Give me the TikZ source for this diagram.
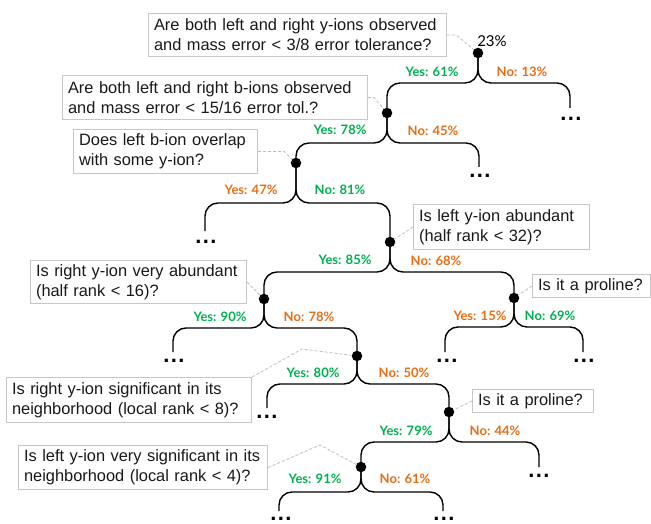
\documentclass[tikz,border=0pt]{standalone}
\usepackage{fontspec}
\setmainfont{Liberation Sans}
\newfontfamily\labfont{Lato}
\definecolor{ygreen}{RGB}{0,176,80}
\definecolor{norange}{RGB}{232,110,20}
\begin{document}
\begin{tikzpicture}[x=1pt,y=-1pt,
  qbox/.style={draw=black!22, line width=1.1pt, fill=white, anchor=north west, align=left,
    inner xsep=5.5pt, inner ysep=0pt, font=\fontsize{16.4}{20}\selectfont, text=black!90},
  dotnode/.style={circle, fill=black, inner sep=0pt, minimum size=10.5pt},
  branch/.style={line width=1.4pt, rounded corners=13pt},
  leader/.style={draw=black!25, line width=0.8pt, dash pattern=on 3pt off 2pt},
  lab/.style={font=\labfont\bfseries\fontsize{13}{14}\selectfont, inner sep=0pt},
  yeslab/.style={lab, text=ygreen},
  nolab/.style={lab, text=norange},
  rootlab/.style={font=\labfont\fontsize{15}{16}\selectfont, inner sep=0pt},
  more/.style={font=\bfseries\fontsize{22}{22}\selectfont, inner sep=0pt}
]
\fill[white] (0,0) rectangle (651,524);
\useasboundingbox (0,0) rectangle (651,524);

% decision dots
\node[dotnode] (n0) at (478,53) {};
\node[dotnode] (n1) at (387,113) {};
\node[dotnode] (n2) at (296,163) {};
\node[dotnode] (n3) at (390,242) {};
\node[dotnode] (n4) at (264,299) {};
\node[dotnode] (n5) at (514,298) {};
\node[dotnode] (n6) at (357,356) {};
\node[dotnode] (n7) at (449,412) {};
\node[dotnode] (n8) at (361,467) {};

% leaf ends
\coordinate (l1) at (570,108);
\coordinate (l2) at (479,167);
\coordinate (l3) at (205,231);
\coordinate (l4) at (445,352);
\coordinate (l5) at (583,352);
\coordinate (l6) at (173,352);
\coordinate (l7) at (267,408);
\coordinate (l8) at (539,467);
\coordinate (l9) at (279,511);
\coordinate (l10) at (443,511);

\node[more] (d1) at (571,119) {.\kern1.4pt.\kern1.4pt.};
\node[more] (d2) at (480,176) {.\kern1.4pt.\kern1.4pt.};
\node[more] (d3) at (206,242) {.\kern1.4pt.\kern1.4pt.};
\node[more] (d4) at (447,361) {.\kern1.4pt.\kern1.4pt.};
\node[more] (d5) at (584,361) {.\kern1.4pt.\kern1.4pt.};
\node[more] (d6) at (174,361) {.\kern1.4pt.\kern1.4pt.};
\node[more] (d7) at (267,417) {.\kern1.4pt.\kern1.4pt.};
\node[more] (d8) at (539,476) {.\kern1.4pt.\kern1.4pt.};
\node[more] (d9) at (281,519) {.\kern1.4pt.\kern1.4pt.};
\node[more] (d10) at (444,519) {.\kern1.4pt.\kern1.4pt.};

% branches
\draw[branch] (n0.center) -- ++(0,30) -| (n1.center);
\draw[branch] (n0.center) -- ++(0,30) -| (l1);
\draw[branch] (n1.center) -- ++(0,30) -| (n2.center);
\draw[branch] (n1.center) -- ++(0,30) -| (l2);
\draw[branch] (n2.center) -- ++(0,40) -| (l3);
\draw[branch] (n2.center) -- ++(0,40) -| (n3.center);
\draw[branch] (n3.center) -- ++(0,30) -| (n4.center);
\draw[branch] (n3.center) -- ++(0,30) -| (n5.center);
\draw[branch] (n5.center) -- ++(0,29) -| (l4);
\draw[branch] (n5.center) -- ++(0,29) -| (l5);
\draw[branch] (n4.center) -- ++(0,29) -| (l6);
\draw[branch] (n4.center) -- ++(0,29) -| (n6.center);
\draw[branch] (n6.center) -- ++(0,28) -| (l7);
\draw[branch] (n6.center) -- ++(0,28) -| (n7.center);
\draw[branch] (n7.center) -- ++(0,30) -| (n8.center);
\draw[branch] (n7.center) -- ++(0,30) -| (l8);
\draw[branch] (n8.center) -- ++(0,25) -| (l9);
\draw[branch] (n8.center) -- ++(0,25) -| (l10);

% question boxes
\node[qbox, text width=287pt, minimum height=43pt] (q1) at (148,13)
  {Are both left and right y-ions observed\\and mass error < 3/8 error tolerance?};
\node[qbox, text width=294pt, minimum height=44pt] (q2) at (62,75)
  {Are both left and right b-ions observed\\and mass error < 15/16 error tol.?};
\node[qbox, text width=173pt, minimum height=44pt] (q3) at (73,129)
  {Does left b-ion overlap\\with some y-ion?};
\node[qbox, text width=165pt, minimum height=45pt] (q4) at (413,204)
  {Is left y-ion abundant\\(half rank < 32)?};
\node[qbox, text width=205pt, minimum height=43pt] (q5) at (30,260)
  {Is right y-ion very abundant\\(half rank < 16)?};
\node[qbox, text width=107pt, minimum height=23pt] (q6) at (532,274)
  {Is it a proline?};
\node[qbox, text width=234pt, minimum height=45pt] (q7) at (6,377)
  {Is right y-ion significant in its\\neighborhood (local rank < 8)?};
\node[qbox, text width=110pt, minimum height=23pt] (q8) at (472,389)
  {Is it a proline?};
\node[qbox, text width=238pt, minimum height=44pt] (q9) at (18,445)
  {Is left y-ion very significant in its\\neighborhood (local rank < 4)?};

% leaders
\coordinate (k7) at (302,349);
\coordinate (k9) at (320,445);
\draw[leader] (q1.east) -- ++(9,0) -- (n0);
\draw[leader] (q2.east) -- ++(6,0) -- (n1);
\draw[leader] (q3.east) -- ++(26,0) -- (n2);
\draw[leader] (q4.west) -- (n3);
\draw[leader] (q5.east) -- (n4);
\draw[leader] (q6.west) -- (n5);
\draw[leader] (q7.north east) -- (k7) -- (n6);
\draw[leader] (q8.west) -- (n7);
\draw[leader] (q9.east) -- (k9) -- (n8);

% labels
\node[rootlab] (p0) at (492,41) {23\%};
\node[yeslab] (a1) at (432,72) {Yes: 61\%};
\node[nolab] (b1) at (522,72) {No: 13\%};
\node[yeslab] (a2) at (340,130) {Yes: 78\%};
\node[nolab] (b2) at (433,131) {No: 45\%};
\node[nolab] (a3) at (251,190) {Yes: 47\%};
\node[yeslab] (b3) at (340,190) {No: 81\%};
\node[yeslab] (a4) at (345,260) {Yes: 85\%};
\node[nolab] (b4) at (436,261) {No: 68\%};
\node[nolab] (a5) at (480,316) {Yes: 15\%};
\node[yeslab] (b5) at (550,316) {No: 69\%};
\node[yeslab] (a6) at (220,317) {Yes: 90\%};
\node[nolab] (b6) at (309,317) {No: 78\%};
\node[yeslab] (a7) at (313,373) {Yes: 80\%};
\node[nolab] (b7) at (404,373) {No: 50\%};
\node[yeslab] (a8) at (406,431) {Yes: 79\%};
\node[nolab] (b8) at (495,431) {No: 44\%};
\node[yeslab] (a9) at (315,479) {Yes: 91\%};
\node[nolab] (b9) at (405,479) {No: 61\%};
\end{tikzpicture}
\end{document}
